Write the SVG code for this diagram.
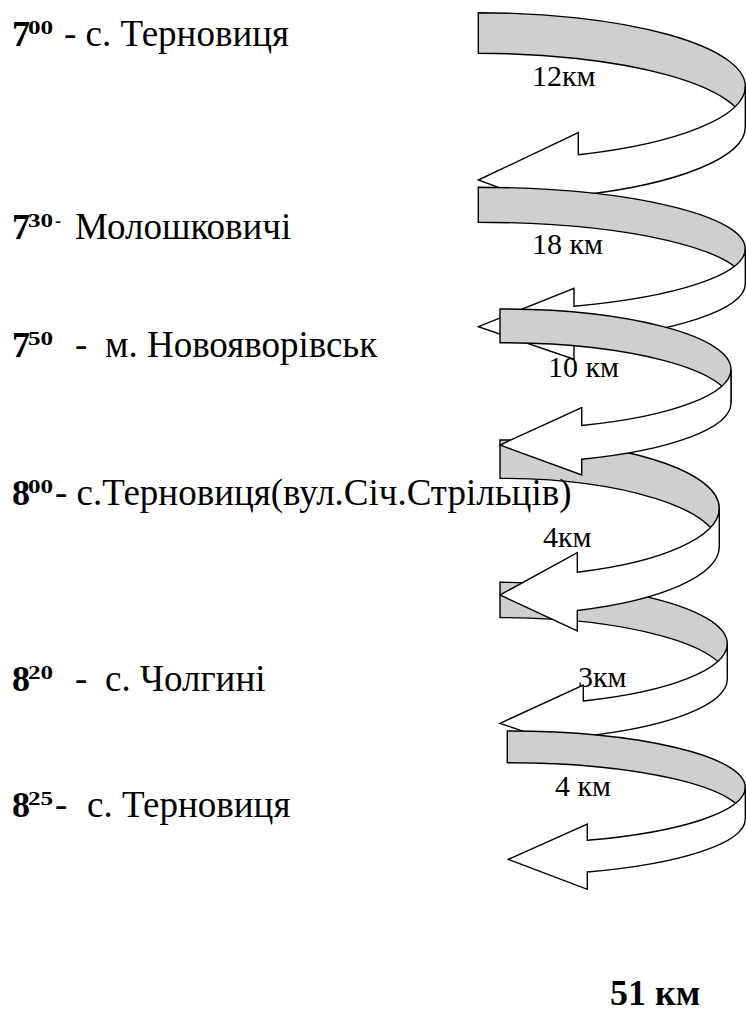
<svg xmlns="http://www.w3.org/2000/svg" width="746" height="1014" viewBox="0 0 746 1014">
<style>
.back{fill:#cfcfcf;stroke:#000;stroke-width:1.4;stroke-linejoin:miter}
.front{fill:#fff;stroke:#000;stroke-width:1.4;stroke-linejoin:miter}
text{font-family:"Liberation Serif","Times New Roman","DejaVu Serif",serif;fill:#000}
.m{font-size:37px}
.b{font-size:36px;font-weight:bold}
.s{font-size:18px;font-weight:bold}
.km{font-size:30px}
</style>
<rect width="746" height="1014" fill="#fff"/>
<g id="distances">
<text class="km" x="532" y="86">12км</text>
<text class="km" x="532" y="254">18 км</text>
<text class="km" x="548" y="377">10 км</text>
<text class="km" x="543" y="547">4км</text>
<text class="km" x="578" y="687">3км</text>
<text class="km" x="555" y="796">4 км</text>
</g>
<g id="connectors">
<g id="leg1">
<path class="back" d="M478.3,12.7 A267,73.7 0 0 1 745.3,86.4 L745.3,127 A267,73.7 0 0 0 478.3,53.3 Z"/>
<path class="front" d="M745.3,86.4 A267,73.7 0 0 1 578.3,154.8 L578.3,132.7 L478.3,180 L578.3,217.4 L578.3,195.4 A267,73.7 0 0 0 745.3,127 Z"/>
</g>
<g id="leg2">
<path class="back" d="M478.3,187.3 A267,61.5 0 0 1 745.3,248.8 L745.3,283.8 A267,61.5 0 0 0 478.3,222.3 Z"/>
<path class="front" d="M745.3,248.8 A267,61.5 0 0 1 574,306.2 L574,288.3 L478.3,326.7 L574,359.2 L574,341.2 A267,61.5 0 0 0 745.3,283.8 Z"/>
</g>
<g id="leg5">
<path class="back" d="M500,582.3 A227.3,61.5 0 0 1 727.3,643.8 L727.3,679.1 A227.3,61.5 0 0 0 500,617.6 Z"/>
<path class="front" d="M727.3,643.8 A227.3,61.5 0 0 1 583.3,701 L583.3,685 L500,723.3 L583.3,752.3 L583.3,736.3 A227.3,61.5 0 0 0 727.3,679.1 Z"/>
</g>
<g id="leg4">
<path class="back" d="M500,440 A219.3,68.3 0 0 1 719.3,508.3 L719.3,546.6 A219.3,68.3 0 0 0 500,478.3 Z"/>
<path class="front" d="M719.3,508.3 A219.3,68.3 0 0 1 577.3,572.2 L577.3,552.7 L500,595 L577.3,631 L577.3,610.5 A219.3,68.3 0 0 0 719.3,546.6 Z"/>
</g>
<g id="leg3">
<path class="back" d="M500,309 A231,60.2 0 0 1 731,369.2 L731,402.9 A231,60.2 0 0 0 500,342.7 Z"/>
<path class="front" d="M731,369.2 A231,60.2 0 0 1 581.7,425.5 L581.7,407.7 L500,445 L581.7,475 L581.7,459.2 A231,60.2 0 0 0 731,402.9 Z"/>
</g>
<g id="leg6">
<path class="back" d="M507.3,731 A238,56.3 0 0 1 745.3,787.3 L745.3,819 A238,56.3 0 0 0 507.3,762.7 Z"/>
<path class="front" d="M745.3,787.3 A238,56.3 0 0 1 587.3,840.3 L587.3,824 L508.3,859.3 L587.3,889.3 L587.3,872 A238,56.3 0 0 0 745.3,819 Z"/>
</g>
</g>
<g id="stop1">
<text class="b" x="12" y="45.5">7</text>
<text class="s" transform="translate(28,33.5) scale(1.4,1)">00</text>
<text class="m" x="64" y="45.5">- с. Терновиця</text>
</g>
<g id="stop2">
<text class="b" x="12" y="239">7</text>
<text class="s" transform="translate(28,227) scale(1.4,1)">30</text>
<text class="s" x="55" y="227">-</text>
<text class="m" x="75" y="239">Молошковичі</text>
</g>
<g id="stop3">
<text class="b" x="12" y="356.5">7</text>
<text class="s" transform="translate(28,344.5) scale(1.4,1)">50</text>
<text class="m" x="75" y="356.5">-</text>
<text class="m" x="105" y="356.5">м. Новояворівськ</text>
</g>
<g id="stop4">
<text class="b" x="12" y="505">8</text>
<text class="s" transform="translate(28,493) scale(1.4,1)">00</text>
<text class="m" x="55" y="505">- с.Терновиця(вул.Січ.Стрільців)</text>
</g>
<g id="stop5">
<text class="b" x="12" y="691">8</text>
<text class="s" transform="translate(28,679) scale(1.4,1)">20</text>
<text class="m" x="75" y="691">-</text>
<text class="m" x="105" y="691">с. Чолгині</text>
</g>
<g id="stop6">
<text class="b" x="12" y="816.7">8</text>
<text class="s" transform="translate(28,804.7) scale(1.4,1)">25</text>
<text class="m" x="55" y="816.7">-</text>
<text class="m" x="87" y="816.7">с. Терновиця</text>
</g>
<g id="total">
<text class="b" x="610" y="1005">51 км</text>
</g>
</svg>
